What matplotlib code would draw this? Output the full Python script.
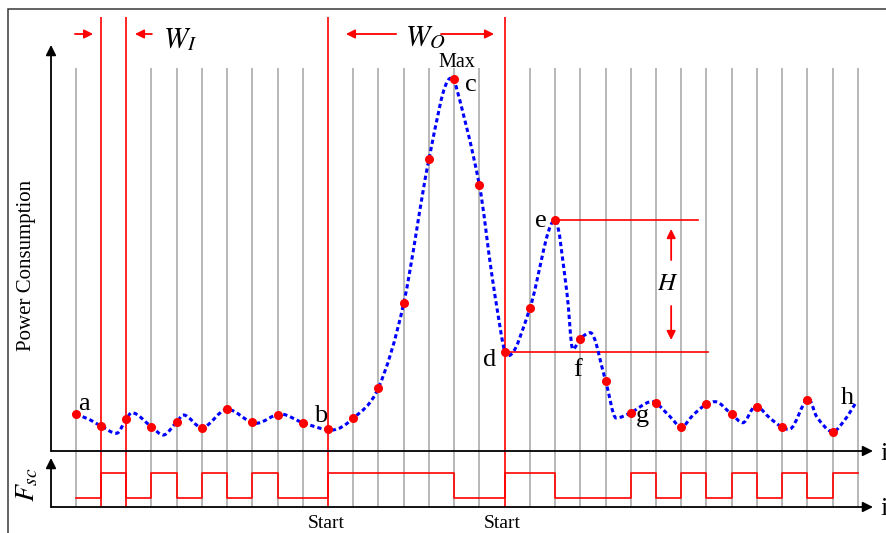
import matplotlib.pyplot as plt
import numpy as np
from matplotlib.path import Path
from matplotlib.patches import PathPatch, Rectangle

plt.rcParams['font.family'] = ['Liberation Serif', 'DejaVu Serif']
plt.rcParams['mathtext.fontset'] = 'stix'

# DATA
# sampling instants (grid index) and sampled power at each instant
sample_idx = list(range(31))
sample_power = [36.7, 25, 31.7, 24.3, 29, 23.3, 41.7, 28.7, 35.7, 28.3,
                21.7, 32.7, 63.3, 147.7, 291.7, 371.7, 265.7, 98.7, 142.7, 231,
                112.3, 70.3, 38.3, 48.3, 24.3, 47, 36.7, 44.3, 23.7, 51,
                19.3]

# continuous power curve at key positions
curve_x = [0.0, 0.5, 1.0, 1.62, 2.0, 2.22, 3.0, 3.47, 4.0, 4.27,
           5.0, 6.0, 7.15, 8.12, 9.0, 10.15, 11.0, 12.0, 13.0, 14.0,
           14.86, 15.0, 16.0, 16.5, 17.0, 17.15, 18.0, 19.0, 19.47, 19.7,
           20.0, 20.4, 21.0, 21.42, 22.0, 22.83, 23.0, 23.56, 24.0, 24.47,
           25.0, 25.34, 26.0, 26.44, 26.95, 27.52, 28.0, 28.28, 29.05, 29.37,
           30.0, 30.5, 30.89]
curve_y = [36.7, 32, 25, 17.7, 31.7, 38.3, 24.3, 16, 29, 36,
           23.3, 41.7, 27.7, 37, 28.3, 21, 32.7, 63.3, 147.7, 291.7,
           372.7, 371.7, 265.7, 175, 98.7, 95.3, 142.7, 231, 158, 101.7,
           112.3, 118.3, 70.3, 33, 38.3, 49.3, 48.3, 34.3, 24, 36,
           47, 49.3, 36.7, 28.3, 45, 32.7, 23.7, 21.7, 52, 34.3,
           19.3, 31.7, 47]

# F_sc state on each interval [i, i+1]
fsc_state = [0, 1, 0, 1, 0, 1, 0, 1, 0, 0, 1, 1, 1, 1, 1, 0, 0, 1, 1, 0,
             0, 0, 1, 0, 1, 0, 1, 0, 1, 0, 1]

grid_idx = list(range(32))
red_idx = [1, 2, 10, 17]
start_idx = [10, 17]
win_in = (1, 2)
win_out = (10, 17)

point_labels = ['a', 'b', 'c', 'd', 'e', 'f', 'g', 'h']
label_x = [0.33, 9.72, 15.67, 16.42, 18.44, 19.91, 22.48, 30.57]
label_y = [40.5, 29, 360.3, 85, 224.3, 75, 29.3, 47]


def smooth_path(xs, ys):
    # cubic bezier through the knots, flat tangent at local extremes
    n = len(xs)
    m = np.zeros(n)
    for k in range(1, n - 1):
        if (ys[k] - ys[k - 1]) * (ys[k + 1] - ys[k]) > 0:
            m[k] = (ys[k + 1] - ys[k - 1]) / (xs[k + 1] - xs[k - 1])
    m[0] = (ys[1] - ys[0]) / (xs[1] - xs[0])
    m[-1] = (ys[-1] - ys[-2]) / (xs[-1] - xs[-2])
    verts = [(xs[0], ys[0])]
    codes = [Path.MOVETO]
    for k in range(n - 1):
        h = xs[k + 1] - xs[k]
        verts += [(xs[k] + h / 3, ys[k] + m[k] * h / 3),
                  (xs[k + 1] - h / 3, ys[k + 1] - m[k + 1] * h / 3),
                  (xs[k + 1], ys[k + 1])]
        codes += [Path.CURVE4] * 3
    return Path(verts, codes)


W, H = 886, 533
fig = plt.figure(figsize=(W / 100, H / 100), dpi=100)

# frame around the drawing
fig.add_artist(Rectangle((8 / W, -0.1), 1.2, 1.1 - 9 / H,
                         transform=fig.transFigure, fill=False,
                         edgecolor="#383838", linewidth=1.1))

ax = fig.add_axes([51 / W, 1 - 451 / H, 822 / W, 406 / H])
ax2 = fig.add_axes([51 / W, 1 - 507 / H, 822 / W, 49 / H])
for a in (ax, ax2):
    a.set_xlim(-0.979, 31.6)
    a.axis('off')
ax.set_ylim(0, 406)
ax2.set_ylim(-0.36, 1.6)

# GRID LINES
gray = [i for i in grid_idx if i not in red_idx]
ax.vlines(gray, -56, 383, color="#ababab", linewidth=1.2,
          clip_on=False, zorder=1)
ax.vlines(red_idx, -56, 434, color="#ff0000", linewidth=1.2,
          clip_on=False, zorder=2)

# AXES WITH ARROWS
axis_arrow = dict(arrowstyle='-|>', color='black', lw=1.3,
                  mutation_scale=15, shrinkA=0, shrinkB=0)
for a in (ax, ax2):
    a.annotate('', xy=(0, 1), xytext=(0, 0), xycoords='axes fraction',
               arrowprops=axis_arrow)
    a.annotate('', xy=(1, 0), xytext=(0, 0), xycoords='axes fraction',
               arrowprops=axis_arrow)

# POWER CURVE
ax.add_patch(PathPatch(smooth_path(curve_x, curve_y), fill=False,
                       edgecolor="#0000ff", linewidth=2.2,
                       linestyle=(0, (1.4, 1.0)), zorder=3,
                       clip_on=False))
ax.plot(sample_idx, sample_power, 'o', color="#ff0000", markersize=5.5,
        zorder=4, clip_on=False)

for lab, lx, ly in zip(point_labels, label_x, label_y):
    ax.text(lx, ly, lab, fontsize=19, ha='center', va='baseline')

# H MARKER
top = sample_power[19]
bottom = sample_power[17]
ax.plot([19, 24.66], [top, top], color="#ff0000", lw=1.2, zorder=2)
ax.plot([17, 25.06], [bottom, bottom], color="#ff0000", lw=1.2, zorder=2)
red_arrow = dict(arrowstyle='-|>', color="#ff0000", lw=1.3,
                 mutation_scale=13, shrinkA=0, shrinkB=0)
ax.annotate('', xy=(23.6, 222), xytext=(23.6, 191), arrowprops=red_arrow)
ax.annotate('', xy=(23.6, 111), xytext=(23.6, 145), arrowprops=red_arrow)
ax.text(23.48, 161, r'$H$', fontsize=18, ha='center', va='baseline')

# WINDOW MARKERS
yw = 417
ax.annotate('', xy=(win_in[0] - 0.31, yw), xytext=(-0.03, yw),
            arrowprops=red_arrow, annotation_clip=False)
ax.annotate('', xy=(win_in[1] + 0.35, yw), xytext=(3.02, yw),
            arrowprops=red_arrow, annotation_clip=False)
ax.text(3.46, 404.3, r'$W_I$', fontsize=21, ha='left', va='baseline')

ax.annotate('', xy=(win_out[0] + 0.71, yw), xytext=(12.7, yw),
            arrowprops=red_arrow, annotation_clip=False)
ax.annotate('', xy=(win_out[1] - 0.42, yw), xytext=(14.48, yw),
            arrowprops=red_arrow, annotation_clip=False)
ax.text(13.05, 406, r'$W_O$', fontsize=21, ha='left', va='baseline')
ax.text(15.09, 384.3, 'Max', fontsize=14.5, ha='center', va='baseline')

# F_SC SIGNAL
ax2.step(grid_idx, fsc_state + [fsc_state[-1]], where='post',
         color="#ff0000", linewidth=1.2, zorder=3)

xt = ax2.get_xaxis_transform()
for s in start_idx:
    ax2.text(s - 0.08, -0.52, 'Start', fontsize=14, ha='center',
             va='bottom', transform=xt)

# AXIS LABELS
ax.text(1.0085, -0.007, 'i', fontsize=19, ha='left', va='center',
        transform=ax.transAxes)
ax2.text(1.0085, -0.04, 'i', fontsize=19, ha='left', va='center',
         transform=ax2.transAxes)
fig.text(27 / W, 1 - 265 / H, 'Power Consumption', fontsize=15,
         rotation=90, ha='center', va='center')
fig.text(28 / W, 1 - 485 / H, r'$F_{sc}$', fontsize=20,
         rotation=90, ha='center', va='center')

plt.savefig("out.png", dpi=100)
plt.close()
